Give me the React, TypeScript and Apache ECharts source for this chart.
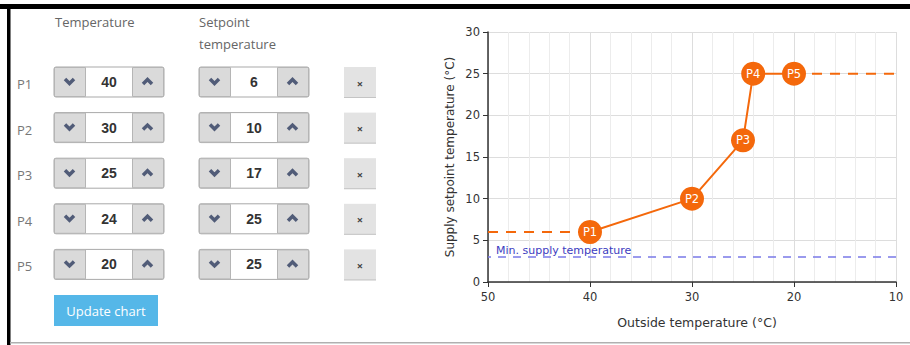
import React, { useEffect, useRef } from "react";
import * as echarts from "echarts";

const pointNames = ["P1", "P2", "P3", "P4", "P5"];
const outsideTemps = [40, 30, 25, 24, 20];
const setpointTemps = [6, 10, 17, 25, 25];
const minSupplyTemp = 3;
const minSupplyLabel = "Min. supply temperature";
const xRange = [10, 50];
const yRange = [0, 30];
const headerTemp = "Temperature";
const headerSetpoint = ["Setpoint", "temperature"];
const buttonText = "Update chart";

const ORANGE = "#f4680b";
const FONT = "'DejaVu Sans', Verdana, sans-serif";
const FORM_FONT = "'Open Sans', 'Noto Sans', sans-serif";

function spinner(x: number, cy: number, value: number): any[] {
  const h = 30;
  const top = cy - h / 2;
  const chev = "#515c78";
  return [
    { type: "rect", shape: { x: x, y: top, width: 110, height: h, r: 2 }, style: { fill: "#ffffff", stroke: "#a9a9a9", lineWidth: 1 } },
    { type: "rect", shape: { x: x + 0.5, y: top + 0.5, width: 31, height: h - 1 }, style: { fill: "#dadada", stroke: "#b5b5b5", lineWidth: 1 } },
    { type: "rect", shape: { x: x + 78.5, y: top + 0.5, width: 31, height: h - 1 }, style: { fill: "#dadada", stroke: "#b5b5b5", lineWidth: 1 } },
    { type: "polyline", shape: { points: [[x + 11, cy - 3], [x + 15.5, cy + 1.5], [x + 20, cy - 3]] }, style: { stroke: chev, lineWidth: 3.5, fill: null } },
    { type: "polyline", shape: { points: [[x + 89, cy + 2], [x + 93.5, cy - 2.5], [x + 98, cy + 2]] }, style: { stroke: chev, lineWidth: 3.5, fill: null } },
    { type: "text", x: x + 55, y: cy, style: { text: String(value), font: "bold 14px 'Liberation Sans', Arial, sans-serif", fill: "#333333", align: "center", verticalAlign: "middle" } },
  ];
}

function buildForm(): any[] {
  const els: any[] = [];
  els.push({ type: "rect", shape: { x: 0, y: 4, width: 910, height: 5 }, style: { fill: "#000000" } });
  els.push({ type: "rect", shape: { x: 7, y: 4, width: 3.5, height: 341 }, style: { fill: "#000000" } });
  els.push({ type: "rect", shape: { x: 10, y: 342, width: 900, height: 1.5 }, style: { fill: "#b0b0b0" } });
  els.push({ type: "text", x: 55, y: 22, style: { text: headerTemp, font: `13px ${FORM_FONT}`, fill: "#666666", verticalAlign: "middle" } });
  els.push({ type: "text", x: 199, y: 22, style: { text: headerSetpoint[0], font: `13px ${FORM_FONT}`, fill: "#666666", verticalAlign: "middle" } });
  els.push({ type: "text", x: 199, y: 44, style: { text: headerSetpoint[1], font: `13px ${FORM_FONT}`, fill: "#666666", verticalAlign: "middle" } });
  pointNames.forEach((name, i) => {
    const cy = 82 + i * 45.6;
    els.push({ type: "text", x: 17, y: cy + 2, style: { text: name, font: `13px ${FORM_FONT}`, fill: "#777777", verticalAlign: "middle" } });
    els.push(...spinner(54, cy, outsideTemps[i]));
    els.push(...spinner(199, cy, setpointTemps[i]));
    els.push({ type: "rect", shape: { x: 344, y: cy - 15, width: 32, height: 31 }, style: { fill: "#e3e3e3" } });
    els.push({ type: "rect", shape: { x: 344, y: cy + 15, width: 32, height: 1 }, style: { fill: "#c4c4c4" } });
    els.push({ type: "text", x: 360, y: cy + 1, style: { text: "×", font: `bold 11px ${FORM_FONT}`, fill: "#444444", align: "center", verticalAlign: "middle" } });
  });
  els.push({ type: "rect", shape: { x: 54, y: 295, width: 104, height: 31 }, style: { fill: "#55b7e8" } });
  els.push({ type: "text", x: 106, y: 311, style: { text: buttonText, font: `13px ${FORM_FONT}`, fill: "#ffffff", align: "center", verticalAlign: "middle" } });
  return els;
}

export default function App() {
  const ref = useRef<HTMLDivElement>(null);
  useEffect(() => {
    if (!ref.current) return;
    const chart = echarts.init(ref.current, null, { renderer: "svg" });
    const mainData = outsideTemps.map((t, i) => [t, setpointTemps[i]]);
    const last = outsideTemps.length - 1;
    chart.setOption({
      animation: false,
      backgroundColor: "#ffffff",
      grid: { left: 488, right: 14, top: 32, bottom: 63, containLabel: false },
      xAxis: {
        type: "value",
        min: xRange[0],
        max: xRange[1],
        interval: 10,
        inverse: true,
        name: "Outside temperature (°C)",
        nameLocation: "middle",
        nameGap: 34,
        nameTextStyle: { fontFamily: FONT, fontSize: 12.5, color: "#333333", padding: [0, 0, 0, 10] },
        axisLine: { show: true, lineStyle: { color: "#333333", width: 1.5 } },
        axisTick: { show: true, length: 5, lineStyle: { color: "#333333" } },
        axisLabel: { fontFamily: FONT, fontSize: 11.5, color: "#333333", margin: 9 },
        splitLine: { show: true, lineStyle: { color: "#dddddd" } },
        minorTick: { show: false, splitNumber: 5 },
        minorSplitLine: { show: true, lineStyle: { color: "#ececec" } },
      },
      yAxis: {
        type: "value",
        min: yRange[0],
        max: yRange[1],
        interval: 5,
        name: "Supply setpoint temperature (°C)",
        nameLocation: "middle",
        nameGap: 32,
        nameTextStyle: { fontFamily: FONT, fontSize: 12, color: "#333333" },
        axisLine: { show: true, lineStyle: { color: "#333333", width: 1.5 } },
        axisTick: { show: true, length: 5, lineStyle: { color: "#333333" } },
        axisLabel: { fontFamily: FONT, fontSize: 11.5, color: "#333333", margin: 8 },
        splitLine: { show: true, lineStyle: { color: "#dddddd" } },
      },
      graphic: buildForm(),
      series: [
        {
          type: "line",
          data: [[xRange[1], setpointTemps[0]], mainData[0]],
          symbol: "none",
          lineStyle: { color: ORANGE, width: 2, type: [10, 8] },
          z: 2,
        },
        {
          type: "line",
          data: [mainData[last], [xRange[0], setpointTemps[last]]],
          symbol: "none",
          lineStyle: { color: ORANGE, width: 2, type: [10, 8] },
          z: 2,
        },
        {
          type: "line",
          data: mainData,
          symbol: "circle",
          symbolSize: 24,
          itemStyle: { color: ORANGE },
          lineStyle: { color: ORANGE, width: 2 },
          z: 3,
          label: {
            show: true,
            position: "inside",
            formatter: (p: any) => pointNames[p.dataIndex],
            fontFamily: FONT,
            fontSize: 11.5,
            color: "#ffffff",
          },
          markLine: {
            symbol: "none",
            silent: true,
            z: 1,
            lineStyle: { color: "#7a7ae8", width: 1.5, type: [8, 7] },
            data: [{ yAxis: minSupplyTemp }],
            label: {
              show: true,
              position: "insideEndTop",
              distance: [8, 1],
              formatter: minSupplyLabel,
              fontFamily: FONT,
              fontSize: 11,
              color: "#3c3cc0",
            },
          },
        },
      ],
    });
    return () => chart.dispose();
  }, []);
  return (
    <div
      ref={ref}
      style={{ position: "fixed", left: 0, top: 0, width: 910, height: 345, background: "#fff" }}
    />
  );
}
